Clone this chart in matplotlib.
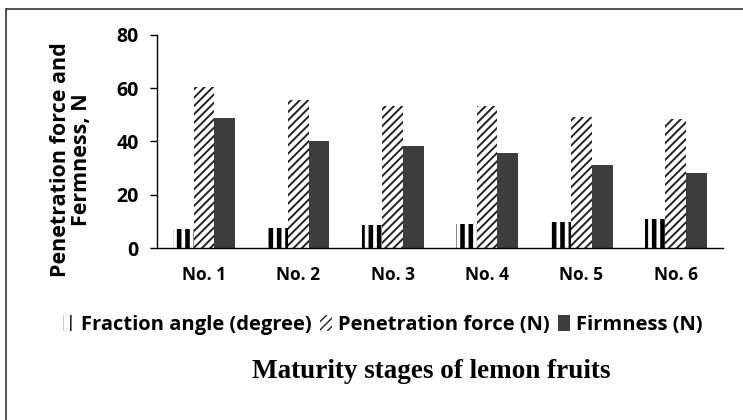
import numpy as np
import matplotlib
matplotlib.use("Agg")
import matplotlib.pyplot as plt
from matplotlib.patches import Rectangle

# data
stages = ['No. 1', 'No. 2', 'No. 3', 'No. 4', 'No. 5', 'No. 6']
fraction_angle = [7.0, 7.5, 8.5, 9.0, 9.8, 11.0]
penetration_force = [60.5, 55.5, 53.5, 53.2, 49.3, 48.3]
firmness = [49.0, 40.0, 38.3, 35.5, 31.3, 28.2]
series_names = ['Fraction angle (degree)', 'Penetration force (N)', 'Firmness (N)']

plt.rcParams['font.family'] = ['Open Sans', 'DejaVu Sans']
plt.rcParams['font.weight'] = 'bold'

fig = plt.figure(figsize=(7.43, 4.2), dpi=100)
ax = fig.add_axes([0.211, 0.4095, 0.762, 0.5072])

x = np.arange(len(stages))
w = 0.22

b1 = ax.bar(x - w, fraction_angle, w, facecolor='white', edgecolor='black',
            linewidth=0, hatch='||', label=series_names[0])
b2 = ax.bar(x, penetration_force, w, facecolor='white', edgecolor='#222222',
            linewidth=0, hatch='////', label=series_names[1])
b3 = ax.bar(x + w, firmness, w, facecolor='#3d3d3d', edgecolor='#3d3d3d',
            linewidth=0, label=series_names[2])

# thicker lines for the vertical hatch
for p in b1:
    if hasattr(p, 'set_hatch_linewidth'):
        p.set_hatch_linewidth(3.3)
for p in b2:
    if hasattr(p, 'set_hatch_linewidth'):
        p.set_hatch_linewidth(1.4)

ax.set_xlim(-0.5, len(stages) - 0.5)
ax.set_ylim(0, 80)
ax.set_yticks([0, 20, 40, 60, 80])
ax.set_xticks(x)
ax.set_xticklabels(stages)
ax.tick_params(axis='x', length=0, pad=13, labelsize=12.5)
ax.tick_params(axis='y', length=5, width=1, pad=8, labelsize=14, direction='out')
for s in ['top', 'right']:
    ax.spines[s].set_visible(False)
ax.spines['left'].set_linewidth(1)
ax.spines['bottom'].set_linewidth(1)

fig.text(71 / 743, 1 - 160 / 420, 'Penetration force and\nFermness, N',
         rotation=90, ha='center', va='center', fontsize=15.5, fontweight='bold',
         linespacing=1.0)

leg = fig.legend(handles=[b1, b2, b3], labels=series_names, loc='center',
                 bbox_to_anchor=(0.515, 1 - 325 / 420), ncol=3, frameon=False,
                 handlelength=0.6, handleheight=0.8, handletextpad=0.3,
                 columnspacing=0.4, fontsize=14.5)

fig.text(0.58, 1 - 372 / 420, 'Maturity stages of lemon fruits',
         ha='center', va='center', fontsize=19.5, fontweight='bold',
         family='Liberation Serif')

# border around the figure (right and bottom edges cut off)
fig.add_artist(Rectangle((6 / 743, -0.1), 1.2, 1.1 - 9 / 420 + 0.0,
                         transform=fig.transFigure, fill=False,
                         edgecolor='#333333', linewidth=1.2))

fig.savefig('out.png', dpi=100)
